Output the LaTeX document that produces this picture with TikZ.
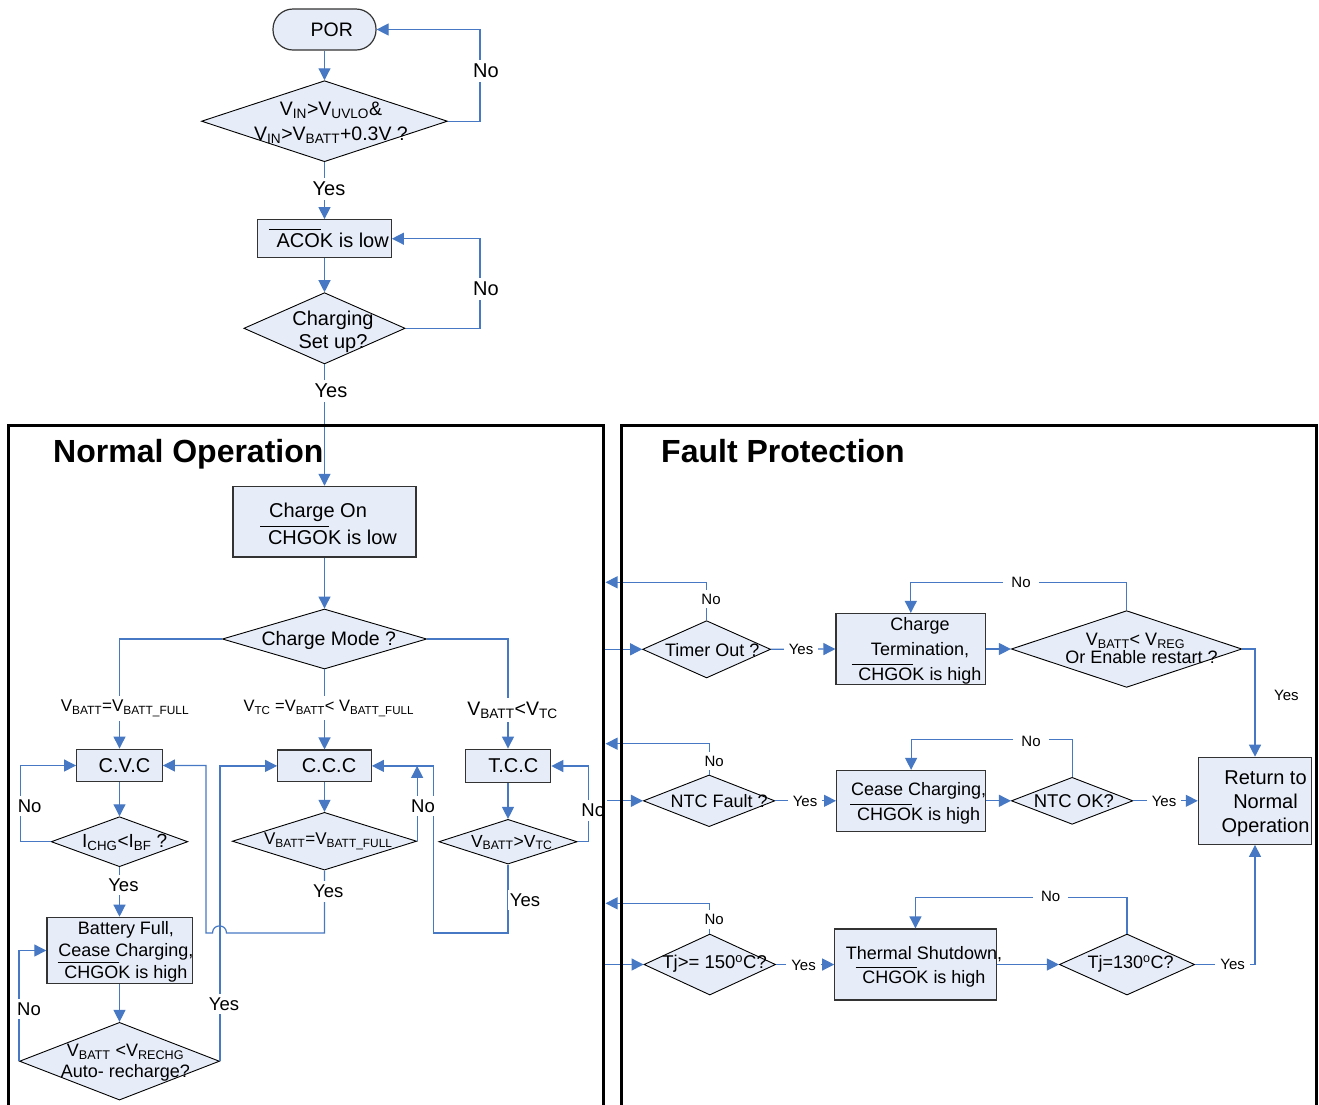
\documentclass[tikz,border=0pt]{standalone}
\usepackage{fontspec}
\setmainfont{Liberation Sans}
\usetikzlibrary{shapes.geometric,arrows.meta}
\definecolor{conblue}{RGB}{70,120,195}
\definecolor{boxfill}{RGB}{231,237,248}
\newcommand\sbs[1]{\textsubscript{#1}}
\newsavebox\ovlbox
\newcommand\ovl[1]{\leavevmode\sbox\ovlbox{#1}\rlap{\kern-0.38em\raisebox{\dimexpr\ht\ovlbox+3pt\relax}{\rule{\dimexpr\wd\ovlbox-0.25em\relax}{0.9pt}}}\usebox\ovlbox}
\newcommand\fsz[2]{\fontsize{#1}{#2}\selectfont}
\begin{document}
\begin{tikzpicture}[x=1pt,y=-1pt,
  conn/.style={draw=conblue, line width=1.2pt},
  arr/.style={conn, -{Triangle[length=12pt,width=12pt]}},
  box/.style={rectangle, draw=black!80, fill=boxfill, line width=1.2pt, inner sep=0pt},
  dia/.style={diamond, draw=black, fill=boxfill, line width=0.9pt, inner sep=0pt},
  txt/.style={align=center, inner sep=0pt},
  lab/.style={fill=white, inner xsep=2pt, inner ysep=4pt},
  toplab/.style={lab, font=\fsz{20}{24}},
  nlab/.style={lab, font=\fsz{18.5}{22}},
  flab/.style={lab, font=\fsz{15}{18}},
  fylab/.style={flab, inner xsep=5pt},
  panel/.style={draw=black, line width=3pt, line join=miter}]
\useasboundingbox (0,0) rectangle (1319,1104);
\clip (0,0) rectangle (1319,1104);

% ---------- titles
\node[anchor=base west, inner sep=0pt, font=\bfseries\fsz{32}{36}] (tnorm) at (53,462.7) {Normal Operation};
\node[anchor=base west, inner sep=0pt, font=\bfseries\fsz{32}{36}] (tfault) at (661,462.5) {Fault Protection};

% ---------- top part
\node[box, rounded corners=20pt, minimum width=103pt, minimum height=41pt] (por) at (324.5,29.5) {};
\node[txt, font=\fsz{19.5}{23}] (port) at (331.7,29.5) {POR};
\node[dia, minimum width=246pt, minimum height=81pt] (d1) at (324.5,121.2) {};
\node[txt, font=\fsz{19.5}{25}] (d1t) at (331,122.5) {V\sbs{IN}>V\sbs{UVLO}\&\\V\sbs{IN}>V\sbs{BATT}+0.3V ?};
\node[box, minimum width=133.6pt, minimum height=38pt] (acok) at (324.5,238.7) {};
\node[txt, font=\fsz{20}{23}] (acokt) at (332.7,238.5) {\ovl{ACOK} is low};
\node[dia, minimum width=161.3pt, minimum height=71.3pt] (d2) at (324.5,328.3) {};
\node[txt, font=\fsz{20}{23.5}] (d2t) at (333,332) {Charging\\Set up?};

% ---------- normal operation
\node[box, minimum width=183pt, minimum height=70.7pt] (co) at (324.5,521.7) {};
\node[txt, font=\fsz{20}{26.7}] (cot) at (325,523.5) {Charge On\hspace*{14pt}\\\hspace*{15pt}\ovl{CHGOK} is low};
\node[dia, minimum width=204.4pt, minimum height=60pt] (cm) at (324.5,639) {};
\node[txt, font=\fsz{19.5}{23}] (cmt) at (328.8,640) {Charge Mode ?};
\node[box, minimum width=85.7pt, minimum height=32.7pt] (cvc) at (119.5,765.5) {};
\node[txt, font=\fsz{20}{23}] (cvct) at (124.5,765.5) {C.V.C};
\node[box, minimum width=93.6pt, minimum height=31.7pt] (ccc) at (324.5,765.9) {};
\node[txt, font=\fsz{20}{23}] (ccct) at (329,765.5) {C.C.C};
\node[box, minimum width=85.4pt, minimum height=33.7pt] (tcc) at (508,766) {};
\node[txt, font=\fsz{20}{23}] (tcct) at (513.3,766) {T.C.C};
\node[dia, minimum width=136.6pt, minimum height=50pt] (icd) at (119.5,841.7) {};
\node[txt, font=\fsz{19}{22}] (icdt) at (124.7,842.5) {I\sbs{CHG}<I\sbs{BF} ?};
\node[dia, minimum width=184.4pt, minimum height=57.7pt] (ccd) at (324.5,841.2) {};
\node[txt, font=\fsz{17}{20}] (ccdt) at (328.3,841.5) {V\sbs{BATT}=V\sbs{BATT\_FULL}};
\node[dia, minimum width=138.3pt, minimum height=44.7pt] (tcd) at (508,841.7) {};
\node[txt, font=\fsz{17.5}{20}] (tcdt) at (511.7,842.5) {V\sbs{BATT}>V\sbs{TC}};
\node[box, minimum width=145.2pt, minimum height=66.4pt] (bat) at (119.5,950.5) {};
\node[txt, font=\fsz{18}{22}] (batt) at (126,952) {Battery Full,\\Cease Charging,\\\ovl{CHGOK} is high};
\node[dia, minimum width=200pt, minimum height=77.7pt] (auto) at (119.5,1061.2) {};
\node[txt, font=\fsz{18}{21}] (autot) at (125.5,1062.5) {V\sbs{BATT} <V\sbs{RECHG}\\Auto- recharge?};

% ---------- fault protection
\node[dia, minimum width=128pt, minimum height=57.3pt] (tod) at (706.6,649.3) {};
\node[txt, font=\fsz{18}{21}] (todt) at (712.3,650) {Timer Out ?};
\node[box, minimum width=149.6pt, minimum height=71pt] (ct) at (910.8,649) {};
\node[txt, font=\fsz{18}{25}] (ctt) at (920,650.5) {Charge\\Termination,\\\ovl{CHGOK} is high};
\node[dia, minimum width=230.6pt, minimum height=76.7pt] (vr) at (1126.6,649) {};
\node[txt, font=\fsz{18}{18}] (vrt) at (1138.5,648.5) {V\sbs{BATT}< V\sbs{REG}\hspace*{6pt}\\\hspace*{6pt}Or Enable restart ?};
\node[box, minimum width=113.3pt, minimum height=87pt] (ret) at (1255,800.8) {};
\node[txt, font=\fsz{20}{24.3}] (rett) at (1265.5,803.5) {Return to\\Normal\\Operation};
\node[dia, minimum width=131.5pt, minimum height=51.7pt] (ntc) at (709.1,800.8) {};
\node[txt, font=\fsz{18}{21}] (ntct) at (719.2,801.5) {NTC Fault ?};
\node[box, minimum width=149pt, minimum height=60.7pt] (cease) at (911.1,800.8) {};
\node[txt, font=\fsz{18}{24.7}] (ceaset) at (918.6,803.5) {Cease Charging,\\\ovl{CHGOK} is high};
\node[dia, minimum width=121.5pt, minimum height=47pt] (nok) at (1072.1,800.8) {};
\node[txt, font=\fsz{18.5}{21}] (nokt) at (1073.9,801.5) {NTC OK?};
\node[dia, minimum width=131.6pt, minimum height=61pt] (tj1) at (709.8,964.5) {};
\node[txt, font=\fsz{18.5}{21}] (tj1t) at (714.6,964) {Tj>= 150\textsuperscript{o}C?};
\node[box, minimum width=161.3pt, minimum height=71pt] (ts) at (915.45,964.5) {};
\node[txt, font=\fsz{18}{24}] (tst) at (924,967) {Thermal Shutdown,\\\ovl{CHGOK} is high};
\node[dia, minimum width=135.3pt, minimum height=61pt] (tj2) at (1127,964.5) {};
\node[txt, font=\fsz{18}{21}] (tj2t) at (1130.7,964) {Tj=130\textsuperscript{o}C?};

% ---------- helper coordinates
\coordinate (nb) at (604,0);
\coordinate (rx) at (480,0);
\coordinate (e1) at (605.5,582.3);
\coordinate (e2) at (605.5,743.7);
\coordinate (e3) at (605.5,903.3);

% ---------- connectors: top
\draw[arr] (por.south) -- (d1.north);
\draw[arr] (d1.east) -- (d1.east -| rx) |- (por.east);
\draw[arr] (d1.south) -- (acok.north);
\draw[arr] (acok.south) -- (d2.north);
\draw[arr] (d2.east) -- (d2.east -| rx) |- (acok.east);
\draw[arr] (d2.south) -- (co.north);

% ---------- connectors: normal operation
\draw[arr] (co.south) -- (cm.north);
\draw[arr] (cm.west) -| (cvc.north);
\draw[arr] (cm.south) -- (ccc.north);
\draw[arr] (cm.east) -| (tcc.north);
\draw[arr] (cvc.south) -- (icd.north);
\draw[arr] (icd.west) -- ++(-30,0) |- (cvc.west);
\draw[arr] (icd.south) -- (bat.north);
\draw[arr] (bat.south) -- (auto.north);
\draw[arr] (auto.west) |- (bat.west);
\draw[arr] (auto.east) |- (ccc.west);
\draw[arr] (ccc.south) -- (ccd.north);
\draw[arr] (ccd.south) |- (226.5,933) .. controls (226.5,923.5) and (212.5,923.5) .. (212.5,933) -- (206,933) |- (cvc.east);
\draw[arr] (ccd.east) -- (ccd.east |- ccc.east);
\draw[arr] (tcc.south) -- (tcd.north);
\draw[arr] (tcd.south) |- (433.7,933) |- (ccc.east);
\draw[arr] (tcd.east) -- ++(11,0) |- (tcc.east);

% ---------- connectors: fault protection
\draw[arr] (tod.north) |- (e1);
\draw[arr] (tod.west -| nb) -- (tod.west);
\draw[arr] (tod.east) -- (ct.west);
\draw[arr] (ct.east) -- (vr.west);
\draw[arr] (vr.north) -- ++(0,-28) -| (ct.north);
\draw[arr] (vr.east) -| (ret.north);
\draw[arr] (ntc.north) |- (e2);
\draw[arr] (ntc.west -| nb) -- (ntc.west);
\draw[arr] (ntc.east) -- (cease.west);
\draw[arr] (cease.east) -- (nok.west);
\draw[arr] (nok.north) -- ++(0,-37.3) -| (cease.north);
\draw[arr] (nok.east) -- (ret.west);
\draw[arr] (tj1.north) |- (e3);
\draw[arr] (tj1.west -| nb) -- (tj1.west);
\draw[arr] (tj1.east) -- (ts.west);
\draw[arr] (ts.east) -- (tj2.west);
\draw[arr] (tj2.north) -- ++(0,-35.7) -| (ts.north);
\draw[arr] (tj2.east) -| (ret.south);

% ---------- labels
\node[toplab] (ln1) at (486,71) {No};
\node[toplab] (ly1) at (329,189) {Yes};
\node[toplab] (ln2) at (486,289) {No};
\node[toplab] (ly2) at (331,391) {Yes};

\node[lab, font=\fsz{17}{20}] (lb1) at (125,708.3) {V\sbs{BATT}=V\sbs{BATT\_FULL}};
\node[lab, font=\fsz{16.5}{20}] (lb2) at (328.8,708.3) {V\sbs{TC} =V\sbs{BATT}< V\sbs{BATT\_FULL}};
\node[lab, font=\fsz{19.5}{22}] (lb3) at (512.5,710) {V\sbs{BATT}<V\sbs{TC}};

\node[nlab] (n1) at (29.6,806) {No};
\node[nlab] (y1) at (123.4,885) {Yes};
\node[nlab] (n2) at (29,1009) {No};
\node[nlab] (y2) at (224,1004) {Yes};
\node[nlab] (n3) at (423,806) {No};
\node[nlab] (y3) at (328.3,891.7) {Yes};
\node[nlab] (n4) at (593.3,810.7) {No};
\node[nlab] (y4) at (525,900) {Yes};

\node[flab] (fn1) at (711,599) {No};
\node[fylab] (fy1) at (801,649) {Yes};
\node[flab, inner xsep=8pt] (fn2) at (1021,582.6) {No};
\node[flab] (fy2) at (1286.4,695) {Yes};
\node[flab] (fn3) at (714.2,761) {No};
\node[fylab] (fy3) at (805,801) {Yes};
\node[flab, inner xsep=8pt] (fn4) at (1031,741) {No};
\node[fylab] (fy4) at (1164,801) {Yes};
\node[flab] (fn5) at (714.2,919.3) {No};
\node[fylab] (fy5) at (803.5,965) {Yes};
\node[flab, inner xsep=8pt] (fn6) at (1050.7,896) {No};
\node[fylab] (fy6) at (1232.7,964.5) {Yes};

% ---------- panels
\draw[panel] (8,1130) -- (8,425) -- (603,425) -- (603,1130);
\draw[panel] (621,1130) -- (621,425) -- (1316,425) -- (1316,1130);
\end{tikzpicture}
\end{document}
